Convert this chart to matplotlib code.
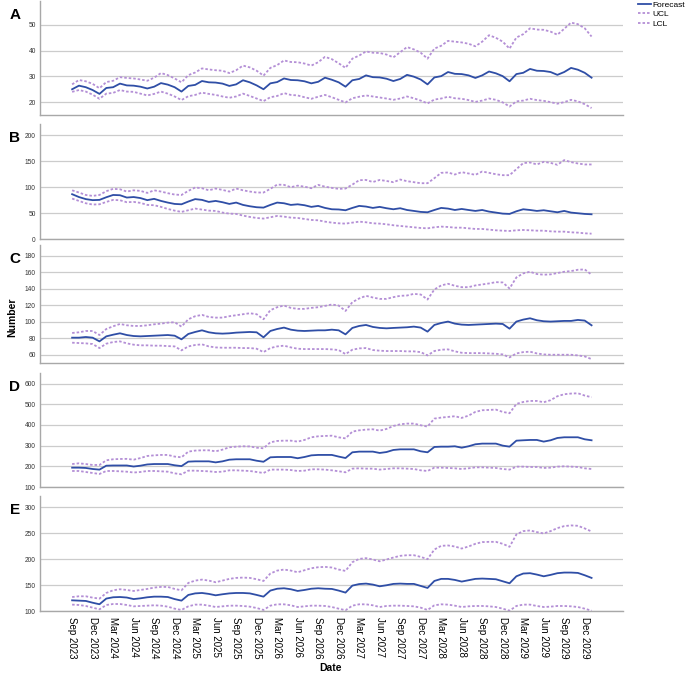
import numpy as np
import pandas as pd
import matplotlib
matplotlib.use("Agg")
import matplotlib.pyplot as plt

plt.rcParams['font.family'] = ['Liberation Sans', 'DejaVu Sans']

# monthly horizon Sep 2023 .. Jan 2030
months = pd.date_range("2023-09-01", periods=77, freq="MS")
tick_idx = list(range(0, 76, 3))
tick_labels = [months[i].strftime("%b %Y") for i in tick_idx]

a_fc = [25.0, 26.4, 25.8, 24.7, 23.2, 25.5, 25.8, 27.2, 26.5, 26.4, 26.0, 25.3, 26.0, 27.4, 26.8, 25.8, 24.1,
        26.3, 26.7, 28.2, 27.7, 27.6, 27.2, 26.3, 26.9, 28.5, 27.7, 26.5, 25.0, 27.3, 27.8, 29.2, 28.6, 28.5,
        28.1, 27.3, 27.9, 29.5, 28.7, 27.7, 26.0, 28.5, 29.0, 30.4, 29.7, 29.6, 29.1, 28.2, 29.0, 30.6, 29.9,
        28.8, 26.9, 29.6, 30.1, 31.7, 31.0, 30.9, 30.4, 29.4, 30.4, 31.9, 31.2, 30.1, 28.1, 30.9, 31.4, 32.9,
        32.2, 32.1, 31.7, 30.6, 31.7, 33.3, 32.6, 31.4, 29.5]
a_ucl = [26.9, 28.6, 28.1, 27.1, 25.4, 27.8, 28.3, 29.7, 29.4, 29.2, 28.8, 28.3, 29.5, 31.3, 30.5, 29.2, 27.7,
         30.5, 31.5, 33.1, 32.7, 32.4, 32.2, 31.3, 32.4, 34.2, 33.5, 32.2, 30.3, 33.3, 34.4, 36.2, 35.6, 35.5,
         35.0, 34.2, 35.5, 37.6, 36.7, 35.1, 33.3, 36.9, 38.1, 39.7, 39.2, 39.1, 38.5, 37.4, 39.4, 41.4, 40.5,
         39.2, 36.9, 40.8, 41.9, 43.8, 43.5, 43.2, 42.7, 41.7, 43.5, 46.0, 45.0, 43.5, 40.8, 45.1, 46.4, 48.7,
         48.2, 48.1, 47.4, 46.2, 48.5, 50.9, 50.3, 48.7, 45.5]
a_lcl = [24.0, 24.7, 24.1, 22.9, 21.3, 23.3, 23.6, 24.7, 24.1, 24.0, 23.3, 22.6, 23.2, 24.1, 23.3, 22.2, 20.8,
         22.3, 22.8, 23.7, 23.2, 22.8, 22.2, 21.7, 22.2, 23.3, 22.4, 21.4, 20.4, 21.9, 22.4, 23.5, 22.8, 22.6,
         21.9, 21.3, 22.1, 22.8, 21.9, 20.9, 19.9, 21.5, 22.1, 22.6, 22.2, 21.8, 21.4, 20.9, 21.4, 22.2, 21.5,
         20.6, 19.5, 21.0, 21.4, 22.1, 21.5, 21.3, 20.8, 20.1, 20.6, 21.4, 20.9, 19.9, 18.3, 20.3, 20.6, 21.3,
         20.8, 20.5, 20.0, 19.4, 20.0, 20.9, 20.3, 19.2, 17.7]

b_fc = [86.5, 81, 77, 75, 75.5, 80.6, 85, 84.5, 80, 81, 79, 75, 77.5, 73.5, 70.3, 67.7, 67, 72.3, 77, 75.5,
        71.6, 73.5, 71, 67.7, 70.3, 65.8, 63.2, 61.3, 60.6, 65.8, 70.3, 69, 65.8, 67, 65.2, 62, 63.9, 60, 57.4,
        57, 55.5, 60, 63.9, 62.6, 60, 62, 59.4, 57.4, 59.4, 56, 54.2, 52.3, 51.6, 56, 60, 58.7, 56, 58, 56, 54.2,
        56, 52.9, 51, 49, 48.4, 53.5, 57.4, 56, 54.2, 55.5, 53.5, 51.6, 54.2, 51, 49.7, 48.4, 47.7]
b_ucl = [94, 89.7, 85, 83.2, 85, 92.3, 96.8, 96, 91.6, 94, 92.9, 89, 94, 91.6, 88.4, 85.8, 85, 92.9, 99.4, 98,
         94, 97.4, 94.8, 91.6, 97.4, 94, 91.6, 89.7, 89.7, 96.8, 105, 104.5, 100, 103, 101, 98, 104.5, 101, 98.7,
         96.8, 97.4, 105, 113.5, 114, 110, 114, 112, 109.7, 114.8, 111.6, 109.7, 107.7, 107.7, 117.4, 127.7,
         128.4, 124.5, 129, 126.5, 123.9, 130.3, 127.7, 125, 123.2, 123.2, 134.8, 146.5, 147.7, 143.9, 149, 147,
         143.2, 152.3, 148.4, 145.8, 143.9, 143.9]
b_lcl = [78, 73.5, 69, 66.5, 67, 71.6, 75.5, 74.8, 71, 71.6, 69.7, 65.8, 65.2, 62, 58, 54.8, 52.3, 55.5, 58.7,
         56.8, 54.8, 54.2, 51, 49, 48.4, 45.2, 42.6, 40.6, 39.4, 42, 44.5, 43.2, 41.3, 40.6, 38.7, 36.8, 36.1,
         33.5, 31.6, 30.3, 29.7, 31.6, 33.5, 32.3, 30.3, 29.7, 28.4, 26.5, 25.2, 23.9, 22.6, 21.3, 20.6, 22.6,
         23.9, 23.2, 21.9, 21.9, 20.6, 19.4, 19.4, 18.1, 16.8, 16.1, 15.5, 16.8, 17.4, 16.8, 16.1, 16.1, 14.8,
         14.2, 14.2, 12.9, 12.3, 11, 10.3]

c_fc = [80.7, 80.7, 81.5, 80.7, 76.2, 82.3, 84.3, 86, 83.9, 82.7, 82.3, 82.7, 83.1, 83.5, 83.9, 83.1, 78.7,
        85.2, 87.6, 89.6, 87.2, 86, 85.6, 86, 86.8, 87.2, 87.6, 87.2, 81.1, 88.8, 91.2, 92.9, 90.4, 89.2, 88.8,
        89.2, 89.6, 89.6, 90.4, 89.6, 84.7, 92.5, 94.9, 96.1, 93.7, 92.5, 92, 92.5, 92.9, 93.3, 94.1, 92.9, 88,
        96.1, 98.5, 100.2, 97.7, 96.5, 96.1, 96.5, 96.9, 97.3, 97.7, 97.3, 91.6, 100.2, 102.6, 104.2, 101.8,
        100.6, 100.2, 100.6, 101, 101, 102.2, 101.4, 95.7]
c_ucl = [86.4, 87.2, 88.8, 88.8, 83.9, 91.2, 94.5, 97.3, 95.7, 94.9, 94.9, 95.7, 96.9, 97.7, 98.9, 99.4, 94.1,
         103, 106.7, 108.3, 105.8, 105, 105, 106.7, 107.9, 109.1, 110.3, 109.1, 103, 114, 117.6, 119.6, 116.8,
         115.6, 115.6, 116.8, 117.6, 119.2, 120.9, 119.6, 113.1, 123.7, 128.2, 131.4, 129.4, 127.7, 127.7,
         129.8, 131.4, 131.8, 133.8, 133, 126.9, 139.1, 144, 146, 143.6, 141.9, 141.9, 144, 145.2, 146.4, 148,
         147.6, 140.3, 153.7, 158.6, 160.6, 157.8, 157, 157.4, 159, 160.6, 161.4, 163, 163.4, 157]
c_lcl = [74.6, 74.2, 73.8, 73, 68.1, 73.4, 75.4, 76.2, 73.8, 72.2, 71.4, 71.4, 71, 71, 70.5, 70.1, 65.3, 70.1,
         71.8, 72.6, 70.1, 68.9, 68.5, 68.5, 68.5, 68.1, 68.1, 67.3, 63.2, 68.1, 70.1, 71, 68.9, 67.3, 66.9,
         66.9, 66.9, 66.9, 66.5, 65.7, 60.8, 66.1, 67.7, 68.1, 65.7, 64.9, 64.5, 64.5, 64.5, 64.1, 64.1, 63.2,
         59.2, 64.5, 66.1, 66.5, 64.1, 62.4, 62, 62, 62, 61.6, 61.2, 60.4, 56.8, 61.6, 63.2, 63.7, 61.6, 60.4,
         60, 60, 60, 60, 59.2, 58, 54.7]

d_fc = [193.5, 193.5, 192, 187, 184, 203, 204, 204, 204, 199, 203, 209, 211, 211, 211, 205, 201, 222.6, 224,
        224, 224, 219, 224, 232, 234, 234, 234, 227, 222, 243.5, 245, 245, 245, 239, 245, 253, 255, 255, 255,
        247, 240, 267.7, 271, 271, 271, 264.5, 269, 279, 282, 282, 282, 272.6, 267.7, 293.5, 295, 295, 296.8,
        290, 296.8, 306.5, 309.7, 309.7, 309.7, 300, 295, 324, 325.8, 327.4, 327.4, 319.4, 325.8, 337, 340.3,
        340.3, 340.3, 330.6, 325.8]
d_ucl = [211, 214.5, 211, 206.5, 206.5, 229, 234, 235.5, 236, 232, 240, 250, 253, 255, 255, 247, 243.5, 271,
         276, 277.4, 277.4, 272.6, 280.6, 292, 295, 296.8, 296, 290, 287, 316, 322.6, 324, 324, 319.4, 327.4,
         340.3, 345, 346.8, 348, 340, 335, 367.7, 374, 377.4, 379, 372.6, 380.6, 395, 403, 406.5, 406.5, 398.4,
         392, 430.6, 435.5, 438.7, 442, 434, 445, 463, 471, 472.6, 474, 463, 456.5, 501.6, 511, 516, 516, 509.7,
         519.4, 538.7, 548.4, 551.6, 553, 542, 534]
d_lcl = [177.4, 177.4, 172.6, 167.7, 163, 177.4, 177.4, 175.8, 174, 170, 172.6, 177.4, 177.4, 175.8, 174, 166,
         161.3, 179, 179, 177.4, 175.8, 172.6, 174, 180.6, 180.6, 179, 177.4, 172.6, 167.7, 184, 184, 184, 182,
         177.4, 179, 185.5, 185.5, 184, 180.6, 176, 171, 188.7, 190.3, 188.7, 188.7, 184, 187, 190.3, 190.3,
         188.7, 187, 180.6, 177.4, 193.5, 193.5, 192, 190.3, 187, 190.3, 195, 195, 193.5, 192, 187, 184, 198.4,
         198.4, 196.8, 196.8, 192, 193.5, 198.4, 200, 198.4, 196.8, 190.3, 187]

e_fc = [120.6, 120, 119.4, 116, 113, 124, 126.5, 127, 126, 123, 124.5, 126.5, 127.7, 127.7, 127, 123, 120,
        131, 134, 134.8, 133, 130.3, 132.3, 134, 134.8, 134.8, 134, 131, 127.7, 139.4, 143, 143.9, 142, 138.7,
        140.6, 143, 143.9, 143, 142.6, 139.4, 135.5, 149, 152, 152.9, 151, 147.7, 149.7, 152.3, 152.9, 152.3,
        152.3, 148.4, 144.5, 158, 162, 162, 160, 156.8, 159.4, 162, 162.6, 162, 161.3, 157.4, 153.5, 167, 172.3,
        173, 170.3, 167, 169.7, 173, 174.2, 174.2, 173.5, 169, 163.9]
e_ucl = [127, 128.4, 128.4, 125.8, 123.9, 134.8, 140, 142, 140.6, 138.7, 140.6, 142.6, 145.2, 146.5, 146.5,
         142.6, 140, 154.2, 158.7, 160.6, 158.7, 155.5, 158.7, 162, 163.9, 164.5, 163.9, 161.3, 158, 172.3, 178,
         180, 178, 174.8, 178.7, 182.6, 184.5, 185.2, 183.9, 180, 177.4, 194.2, 200.6, 202, 199.4, 196, 199.4,
         203.2, 206.5, 207.7, 207.7, 204.5, 200, 218.7, 225.8, 226.5, 224.5, 220.6, 224.5, 229.7, 233, 233.5,
         233.5, 229.7, 224, 247.7, 254.2, 255.5, 252.3, 249.7, 254.2, 260, 263.9, 265.2, 264.5, 259.4, 253.5]
e_lcl = [112.3, 111.6, 109.7, 106.5, 103.2, 111.6, 113.5, 113.5, 111.6, 109, 109.7, 110.3, 111, 110.3, 108.4,
         104.5, 102, 109, 112.3, 112.3, 110.3, 107.7, 109, 110.3, 110.3, 109.7, 108.4, 105.8, 102, 110.3, 112.9,
         112.9, 111, 107.7, 109, 110.3, 110.3, 109.7, 107.7, 104.5, 101.5, 110.3, 112.9, 112.9, 111, 107.7,
         109.7, 110.3, 110.3, 109.7, 109, 106.5, 102, 111, 112.9, 112.3, 110.3, 107.7, 109, 109.7, 109.7, 109,
         107.7, 104.5, 100.6, 109.7, 112.3, 112.3, 109.7, 107.7, 108.4, 109.7, 109.7, 109, 107.7, 104.5, 100.6]

panels = [
    ("A", a_fc, a_ucl, a_lcl, (15, 59.3), [20, 30, 40, 50], 1, 115),
    ("B", b_fc, b_ucl, b_lcl, (0, 222), [0, 50, 100, 150, 200], 124, 239),
    ("C", c_fc, c_ucl, c_lcl, (50, 193), [60, 80, 100, 120, 140, 160, 180], 245, 363),
    ("D", d_fc, d_ucl, d_lcl, (100, 651), [100, 200, 300, 400, 500, 600], 373, 487),
    ("E", e_fc, e_ucl, e_lcl, (100, 322), [100, 150, 200, 250, 300], 496, 611),
]

fc_color = "#2f4ea6"
cl_color = "#b48fd6"
W, H = 685, 675

fig = plt.figure(figsize=(W / 100, H / 100), dpi=100)
axes = []
for letter, fc, ucl, lcl, ylim, yticks, top, bottom in panels:
    ax = fig.add_axes([40 / W, 1 - bottom / H, 583 / W, (bottom - top) / H])
    l1, = ax.plot(np.arange(len(fc)), fc, color=fc_color, lw=1.3, label="Forecast")
    l2, = ax.plot(np.arange(len(ucl)), ucl, color=cl_color, lw=1.3, ls=(0, (1.4, 1.1)), label="UCL")
    l3, = ax.plot(np.arange(len(lcl)), lcl, color=cl_color, lw=1.3, ls=(0, (1.4, 1.1)), label="LCL")
    ax.set_xlim(-4.7, 80.6)
    ax.set_ylim(*ylim)
    ax.set_yticks(yticks)
    ax.yaxis.grid(True, color="#cccccc", lw=0.9)
    ax.set_axisbelow(True)
    for s in ["top", "right"]:
        ax.spines[s].set_visible(False)
    for s in ["left", "bottom"]:
        ax.spines[s].set_color("#a8a8a8")
        ax.spines[s].set_linewidth(1.0)
    ax.tick_params(axis="y", labelsize=4.8, length=0, pad=3, labelcolor="#333333")
    ax.set_xticks(tick_idx)
    ax.tick_params(axis="x", length=0)
    ax.set_xticklabels([])
    fig.text(15 / W, 1 - (top + 14) / H, letter, fontsize=11, weight="bold", ha="center", va="center")
    axes.append(ax)

axes[-1].set_xticklabels(tick_labels, rotation=270, fontsize=7, va="top", ha="center")
axes[-1].tick_params(axis="x", pad=4)

fig.legend([l1, l2, l3], ["Forecast", "UCL", "LCL"], loc="upper left",
           bbox_to_anchor=(637 / W, 1.0), frameon=False, fontsize=6,
           handlelength=1.6, handletextpad=0.15, labelspacing=0.2,
           borderaxespad=0, borderpad=0.1)

fig.text(12 / W, 1 - 317 / H, "Number", rotation=90, ha="center", va="center", fontsize=7.5, weight="bold")
fig.text(331 / W, 1 - 668 / H, "Date", ha="center", va="center", fontsize=7.5, weight="bold")

fig.savefig("out.png", dpi=100)
